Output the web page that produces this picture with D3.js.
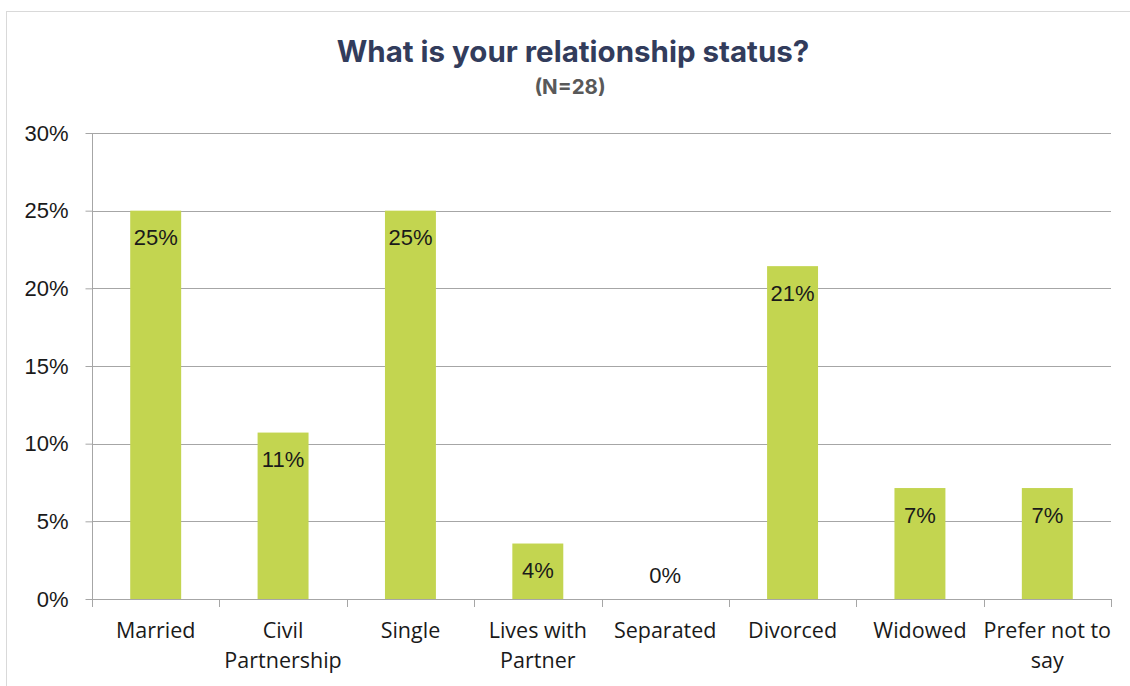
<!DOCTYPE html>
<html>
<head>
<meta charset="utf-8">
<script src="https://cdn.jsdelivr.net/npm/d3@7/dist/d3.min.js"></script>
<style>
  html, body { margin: 0; padding: 0; background: #ffffff; }
  svg { display: block; }
</style>
</head>
<body>
<svg id="chart" width="1130" height="686"></svg>
<script>
// Relationship status, share of respondents (N = 28)
const categories = [
  ["Married"],
  ["Civil", "Partnership"],
  ["Single"],
  ["Lives with", "Partner"],
  ["Separated"],
  ["Divorced"],
  ["Widowed"],
  ["Prefer not to", "say"]
];
const counts = [7, 3, 7, 1, 0, 6, 2, 2];
const total = 28;
const shares = counts.map(c => c / total * 100);
const yTicks = [0, 5, 10, 15, 20, 25, 30];

const svg = d3.select("#chart");
const W = 1130, H = 686;
const plot = { left: 92, right: 1111, top: 133, bottom: 599 };

// Outer chart frame
svg.append("rect")
  .attr("x", 6.5).attr("y", 11.5)
  .attr("width", W + 10).attr("height", H + 10)
  .attr("fill", "#ffffff").attr("stroke", "#d9d9d9").attr("stroke-width", 1);

// Titles
svg.append("text")
  .attr("x", 573).attr("y", 62)
  .attr("text-anchor", "middle")
  .attr("font-family", "Inter, 'Open Sans', sans-serif")
  .attr("font-weight", 700).attr("font-size", 29.5)
  .attr("fill", "#323c5c")
  .text("What is your relationship status?");
svg.append("text")
  .attr("x", 570).attr("y", 94)
  .attr("text-anchor", "middle")
  .attr("font-family", "Inter, 'Open Sans', sans-serif")
  .attr("font-weight", 700).attr("font-size", 20.5)
  .attr("fill", "#595959")
  .text("(N=" + total + ")");

const x = d3.scaleBand()
  .domain(d3.range(categories.length))
  .range([plot.left, plot.right])
  .paddingInner(0.6).paddingOuter(0.3);
const xOuter = d3.scaleBand()
  .domain(d3.range(categories.length))
  .range([plot.left, plot.right]);
const y = d3.scaleLinear().domain([0, 30]).range([plot.bottom, plot.top]);

const gridColor = "#a6a6a6";

// Horizontal gridlines
svg.append("g")
  .selectAll("line")
  .data(yTicks.filter(t => t > 0))
  .join("line")
  .attr("x1", plot.left).attr("x2", plot.right)
  .attr("y1", d => Math.round(y(d)) + 0.5).attr("y2", d => Math.round(y(d)) + 0.5)
  .attr("stroke", gridColor).attr("stroke-width", 1);

// Y axis
const yAxis = svg.append("g")
  .attr("transform", `translate(${plot.left + 0.5},0)`)
  .call(d3.axisLeft(y).tickValues(yTicks).tickFormat(d => d + "%").tickSize(7).tickPadding(17));
yAxis.select(".domain").attr("stroke", gridColor).attr("d", `M0,${plot.top}V${plot.bottom}`);
yAxis.selectAll(".tick line").attr("stroke", gridColor);
yAxis.selectAll(".tick text")
  .attr("font-family", "'Liberation Sans', Arial, sans-serif")
  .attr("font-size", 22).attr("fill", "#1a1a1a");

// Bars
svg.append("g")
  .selectAll("rect")
  .data(shares)
  .join("rect")
  .attr("x", (d, i) => x(i))
  .attr("width", x.bandwidth())
  .attr("y", d => y(d))
  .attr("height", d => y(0) - y(d))
  .attr("fill", "#c3d550");

// Value labels
svg.append("g")
  .selectAll("text")
  .data(shares)
  .join("text")
  .attr("x", (d, i) => x(i) + x.bandwidth() / 2)
  .attr("y", d => d === 0 ? y(0) - 24 : y(d) + 27)
  .attr("dy", "0.35em")
  .attr("text-anchor", "middle")
  .attr("font-family", "'Liberation Sans', Arial, sans-serif")
  .attr("font-size", 22).attr("fill", "#1a1a1a")
  .text(d => d3.format(".0f")(d) + "%");

// X axis baseline and category ticks
const xg = svg.append("g");
xg.append("line")
  .attr("x1", plot.left).attr("x2", plot.right + 1)
  .attr("y1", plot.bottom + 0.5).attr("y2", plot.bottom + 0.5)
  .attr("stroke", gridColor);
const bounds = d3.range(categories.length).map(i => xOuter(i)).concat([plot.right]);
xg.selectAll("line.tick")
  .data(bounds)
  .join("line")
  .attr("class", "tick")
  .attr("x1", d => Math.round(d) + 0.5).attr("x2", d => Math.round(d) + 0.5)
  .attr("y1", plot.bottom).attr("y2", plot.bottom + 8)
  .attr("stroke", gridColor);

// Category labels
const cat = xg.selectAll("text.cat")
  .data(categories)
  .join("text")
  .attr("class", "cat")
  .attr("x", (d, i) => xOuter(i) + xOuter.bandwidth() / 2)
  .attr("y", 638)
  .attr("text-anchor", "middle")
  .attr("font-family", "'Open Sans', 'Noto Sans', sans-serif")
  .attr("font-size", 21.5).attr("fill", "#1a1a1a");
cat.selectAll("tspan")
  .data(d => d)
  .join("tspan")
  .attr("x", function () { return d3.select(this.parentNode).attr("x"); })
  .attr("dy", (d, i) => i === 0 ? 0 : 30)
  .text(d => d);
</script>
</body>
</html>
